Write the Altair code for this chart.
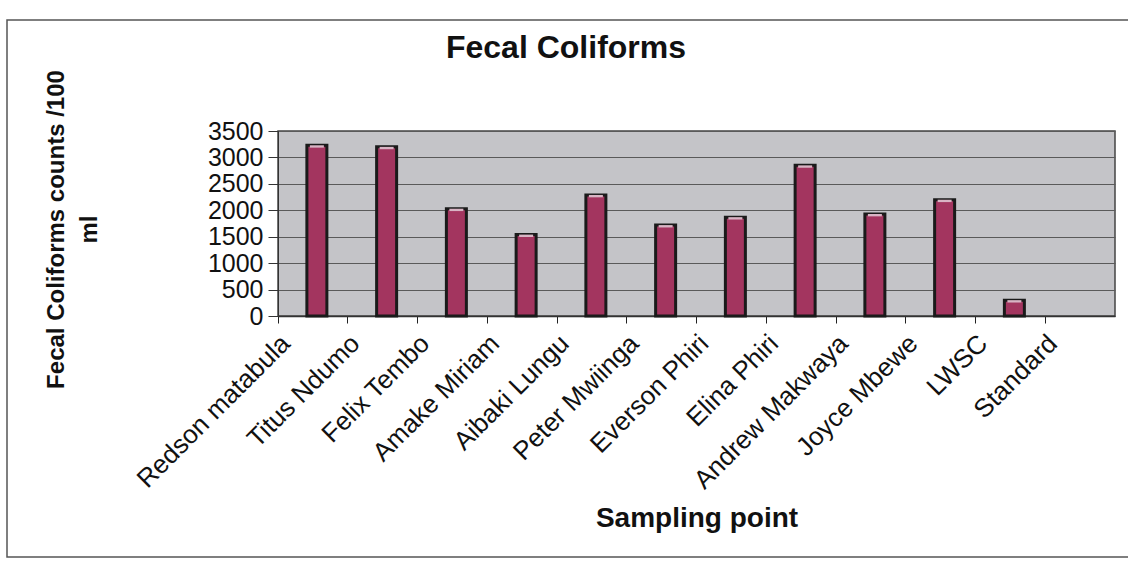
import altair as alt
import pandas as pd

# Sampling points and mean fecal coliform counts per 100 ml
sites = [
    "Redson matabula", "Titus Ndumo", "Felix Tembo", "Amake Miriam",
    "Aibaki Lungu", "Peter Mwiinga", "Everson Phiri", "Elina Phiri",
    "Andrew Makwaya", "Joyce Mbewe", "LWSC", "Standard",
]
counts = [3230, 3200, 2030, 1540, 2290, 1720, 1870, 2850, 1930, 2200, 300, 0]
y_ticks = [0, 500, 1000, 1500, 2000, 2500, 3000, 3500]

df = pd.DataFrame({"site": sites, "count": counts})

FONT = "Liberation Sans"
PLOT_W, PLOT_H = 837, 185
PAD_L, PAD_T = 278, 131

x_scale = alt.Scale(domain=sites, paddingInner=0, paddingOuter=0)
y_scale = alt.Scale(domain=[0, 3500], nice=False)

x_enc = alt.X(
    "site:N",
    scale=x_scale,
    axis=alt.Axis(
        title="Sampling point",
        titleFont=FONT, titleFontSize=28, titleFontWeight="bold", titleColor="#111",
        titleBaseline="alphabetic", titleY=210,
        labelFont=FONT, labelFontSize=26, labelColor="#111", labelLimit=0,
        labelAngle=-45, labelAlign="right", labelBaseline="middle",
        labelPadding=16, labelOffset=-27, bandPosition=0,
        ticks=True, tickSize=7, tickColor="#222", tickWidth=1,
        domain=True, domainColor="#333", domainWidth=1.5,
        grid=False,
    ),
)

y_enc = alt.Y(
    "count:Q",
    scale=y_scale,
    axis=alt.Axis(
        values=y_ticks, format="d",
        title=["Fecal Coliforms counts /100", "ml"],
        titleFont=FONT, titleFontSize=24, titleFontWeight="bold", titleColor="#111",
        titleAngle=-90, titleAlign="center", titleBaseline="middle",
        titleLineHeight=33, titleX=56 - PAD_L, titleY=229 - PAD_T,
        labelFont=FONT, labelFontSize=25, labelColor="#111", labelPadding=5,
        labelOverlap=False,
        ticks=True, tickSize=10, tickColor="#333",
        domain=True, domainColor="#333",
        grid=True, gridColor="#5a5a5a", gridWidth=1,
    ),
)

base = alt.Chart(df).transform_filter("datum.count > 0")

bars = base.mark_bar(
    size=20, color="#a3355f", stroke="#1a1a1a", strokeWidth=3, xOffset=4
).encode(x=x_enc, y=y_enc)

# pale top face of each column
tops = base.transform_calculate(
    lower="datum.count - 45"
).mark_bar(size=14, color="#d8b4c4", xOffset=4).encode(
    x=x_enc, y=y_enc, y2="lower:Q",
)

# outer chart frame
frame = alt.Chart(pd.DataFrame({"k": [0]})).mark_rect(
    fill=None, stroke="#555", strokeWidth=1.5
).encode(
    x=alt.value(7 - PAD_L), x2=alt.value(1128 - PAD_L + 10),
    y=alt.value(20 - PAD_T), y2=alt.value(557 - PAD_T),
)

# chart heading
heading = alt.Chart(pd.DataFrame({"t": ["Fecal Coliforms"]})).mark_text(
    font=FONT, fontSize=32, fontWeight="bold", color="#111",
    align="center", baseline="alphabetic",
).encode(
    text="t:N", x=alt.value(566 - PAD_L), y=alt.value(58 - PAD_T),
)

chart = alt.layer(frame, bars, tops, heading).properties(
    width=PLOT_W,
    height=PLOT_H,
    background="white",
    autosize=alt.AutoSizeParams(type="none"),
    padding={"left": PAD_L, "top": PAD_T, "right": 1128 - PAD_L - PLOT_W,
             "bottom": 566 - PAD_T - PLOT_H},
).configure_view(
    fill="#c4c4c8", stroke="#444", strokeWidth=1.5
)

chart.save("out.html", embed_options={"renderer": "svg", "actions": False})
